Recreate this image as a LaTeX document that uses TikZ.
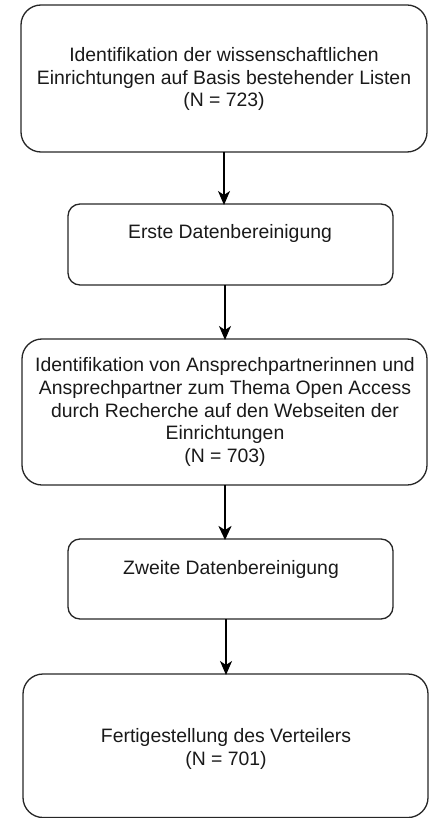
\documentclass[tikz,border=0pt]{standalone}
\usepackage{fontspec}
\setmainfont{Liberation Sans}
\usetikzlibrary{arrows.meta}
\begin{document}
\begin{tikzpicture}[x=1pt,y=-1pt,
  flowbox/.style={draw=black!85, line width=1.3pt},
  label/.style={align=center, font=\fontsize{19.4}{22.8}\selectfont, text=black!90, inner sep=0pt},
  flowarrow/.style={draw=black, line width=1.4pt, -{Stealth[length=14pt,width=12pt,inset=4pt]}, shorten >=-1pt},
  thickarrow/.style={flowarrow, line width=2.8pt, -{Stealth[length=14pt,width=13pt,inset=4pt]}}]
\useasboundingbox (0,0) rectangle (429,818);

% process steps
\draw[flowbox, rounded corners=20pt] (21,5) rectangle (427,152);
\coordinate (b1bot) at (224,152);
\node[label] (t1) at (224,79) {Identifikation der wissenschaftlichen\\Einrichtungen auf Basis bestehender Listen\\(N = 723)};

\draw[flowbox, rounded corners=12pt] (68,204) rectangle (393,285);
\coordinate (b2top) at (224,204); \coordinate (b2bot) at (225,285);
\node[label] (t2) at (230,233) {Erste Datenbereinigung};

\draw[flowbox, rounded corners=20pt] (22,339) rectangle (427,485);
\coordinate (b3top) at (225,339); \coordinate (b3bot) at (225,485);
\node[label] (t3) at (225,412) {Identifikation von Ansprechpartnerinnen und\\Ansprechpartner zum Thema Open Access\\durch Recherche auf den Webseiten der\\Einrichtungen\\(N = 703)};

\draw[flowbox, rounded corners=12pt] (68,539) rectangle (393,619);
\coordinate (b4top) at (225,539); \coordinate (b4bot) at (226,619);
\node[label] (t4) at (231,569) {Zweite Datenbereinigung};

\draw[flowbox, rounded corners=20pt] (23,674) rectangle (428,817.5);
\coordinate (b5top) at (226,674);
\node[label] (t5) at (226,749) {Fertigestellung des Verteilers\\(N = 701)};

% connectors
\draw[flowarrow] (b1bot) -- (b2top);
\draw[flowarrow] (b2bot) -- (b3top);
\draw[thickarrow] (b3bot) -- (b4top);
\draw[flowarrow] (b4bot) -- (b5top);
\end{tikzpicture}
\end{document}
